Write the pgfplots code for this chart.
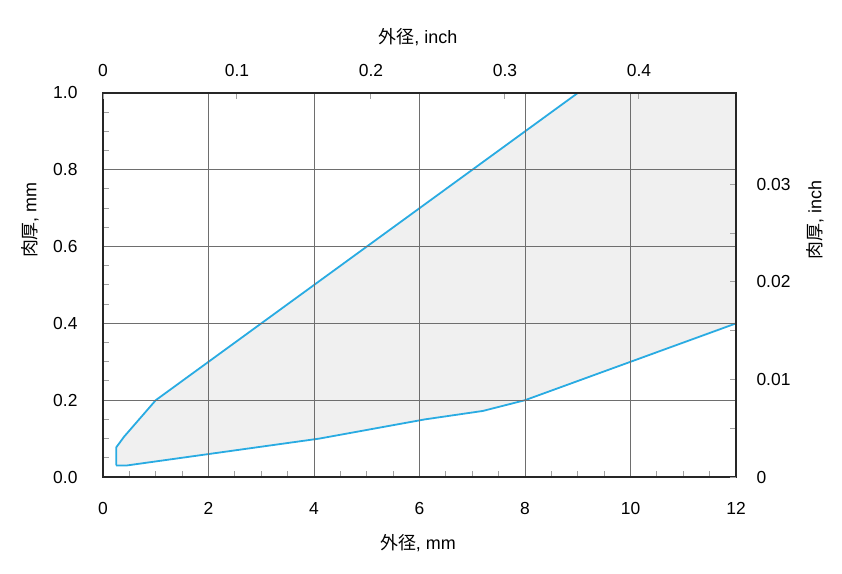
\documentclass[border=0pt]{standalone}
\usepackage{fontspec}
\setmainfont{Liberation Sans}
\newfontfamily\cjk{Noto Sans CJK JP}
\usepackage{pgfplots}
\pgfplotsset{compat=1.18}
\definecolor{lineblue}{HTML}{29ABE2}
\definecolor{fillgray}{HTML}{F0F0F0}
\definecolor{gridgray}{HTML}{6E6E6E}
\definecolor{tickgray}{HTML}{A0A0A0}
\begin{document}
\begin{tikzpicture}
\pgfplotsset{
  every axis/.append style={
    scale only axis, width=633bp, height=384bp,
    /pgf/number format/assume math mode=true,
    tick label style={font=\fontsize{17.5}{20}\selectfont},
    label style={font=\fontsize{18}{21}\selectfont},
    axis line style={line width=1.5bp, draw=black!85},
    scaled ticks=false,
  }
}
\begin{axis}[
  xmin=0, xmax=12, ymin=0, ymax=1,
  xtick={0,2,...,12}, ytick={0,0.2,...,1.0},
  minor x tick num=3, minor y tick num=3,
  xtick pos=bottom, ytick pos=left,
  yticklabel style={/pgf/number format/fixed, /pgf/number format/fixed zerofill, /pgf/number format/precision=1},
  grid=major, major grid style={gridgray, line width=0.7bp},
  major tick length=0pt, minor tick length=6bp,
  minor tick style={tickgray, line width=1bp},
  xticklabel style={yshift=-22bp}, yticklabel style={xshift=-22bp},
  axis on top,
  xlabel={{\cjk 外径}, mm},
  ylabel={{\cjk 肉厚}, mm},
  xlabel style={at={(rel axis cs:0.4976,-0.172)}, anchor=center},
  ylabel style={at={(rel axis cs:-0.1153,0.669)}, anchor=center},
]
\addplot[fill=fillgray, draw=none] coordinates {
 (0.25,0.03) (0.25,0.077) (0.4,0.105) (1.0,0.2) (9.0,1.0) (12,1.0) (12,0.4)
 (8,0.2) (7.2,0.172) (6.1,0.15) (4.1,0.1) (0.45,0.03) (0.25,0.03)};
\addplot[lineblue, line width=1.8bp] coordinates {
 (0.25,0.03) (0.25,0.077) (0.4,0.105) (1.0,0.2) (9.0,1.0)};
\addplot[lineblue, line width=1.8bp] coordinates {
 (0.25,0.03) (0.45,0.03) (4.1,0.1) (6.1,0.15) (7.2,0.172) (8,0.2) (12,0.4)};
\coordinate (bl) at (rel axis cs:0,0);
\coordinate (tr) at (rel axis cs:1,1);
\end{axis}
\begin{axis}[
  xmin=0, xmax=0.472441, ymin=0, ymax=0.0393701,
  axis x line*=top, axis y line*=right,
  xtick={0,0.1,0.2,0.3,0.4}, ytick={0,0.01,0.02,0.03},
  minor y tick num=1,
  xticklabels={0,0.1,0.2,0.3,0.4},
  yticklabels={0,0.01,0.02,0.03},
  major tick length=6bp, minor tick length=6bp,
  every tick/.style={tickgray, line width=1bp},
  xticklabel style={yshift=13bp}, yticklabel style={xshift=17bp},
  xlabel={{\cjk 外径}, inch},
  ylabel={{\cjk 肉厚}, inch},
  xlabel style={at={(rel axis cs:0.4976,1.146)}, anchor=center},
  ylabel style={at={(rel axis cs:1.1248,0.669)}, anchor=center, rotate=0},
]
\end{axis}
\pgfresetboundingbox
\path[use as bounding box] ([xshift=-103bp,yshift=-97bp]bl) rectangle ([xshift=106bp,yshift=93bp]tr);
\end{tikzpicture}
\end{document}
